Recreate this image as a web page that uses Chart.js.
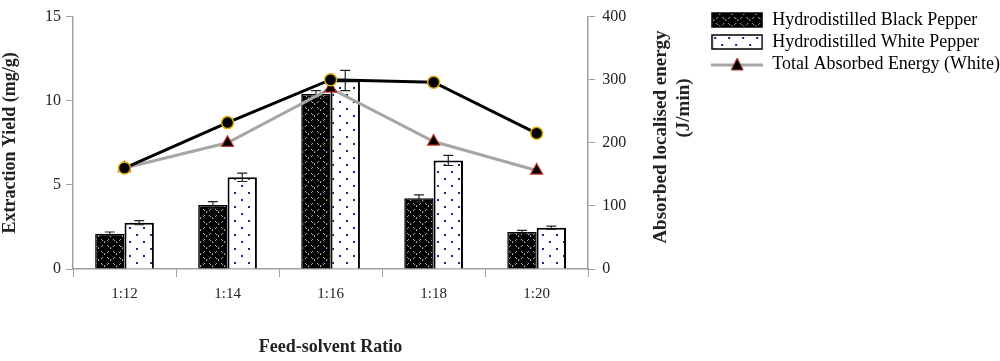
<!DOCTYPE html>
<html>
<head>
  <meta name="viewport" content="width=device-width, initial-scale=1.0">
  <title>Extraction Yield vs Feed-solvent Ratio</title>
  <script src="https://cdn.jsdelivr.net/npm/chart.js"></script>
  <style>
    body { margin: 0; padding: 0; background: #fff; }
    #wrap { width: 1000px; height: 361px; }
  </style>
</head>
<body>
  <div id="wrap"><canvas id="myChart"></canvas></div>

  <script>
    // data
    const categories = ['1:12', '1:14', '1:16', '1:18', '1:20'];
    const blackPepper = [2.1, 3.8, 10.4, 4.2, 2.2];
    const blackErr = [0.1, 0.2, 0.2, 0.2, 0.1];
    const whitePepper = [2.75, 5.45, 11.2, 6.45, 2.45];
    const whiteErr = [0.12, 0.25, 0.6, 0.3, 0.1];
    const energyBlack = [160, 232, 300, 296, 215];
    const energyWhite = [160, 200, 286, 202, 156];
    const yTicks = [0, 5, 10, 15];
    const y1Ticks = [0, 100, 200, 300, 400];

    const FONT = "'Liberation Serif', serif";
    const axisGray = '#a0a0a0';

    // patterns for the bars
    function blackTile() {
      const c = document.createElement('canvas');
      c.width = 12; c.height = 12;
      const g = c.getContext('2d');
      g.fillStyle = '#fff'; g.fillRect(0, 0, 12, 12);
      g.fillStyle = '#000';
      g.fillRect(0, 0, 6, 6);
      g.fillRect(6, 6, 6, 6);
      [[9, 3], [3, 9]].forEach(([x, y]) => {
        g.beginPath(); g.arc(x, y, 3.3, 0, Math.PI * 2); g.fill();
      });
      g.fillStyle = '#fff';
      g.fillRect(8, 1.5, 1.2, 1.2);
      g.fillRect(2, 7.5, 1.2, 1.2);
      return c;
    }
    function dotTile() {
      const c = document.createElement('canvas');
      c.width = 14; c.height = 14;
      const g = c.getContext('2d');
      g.fillStyle = '#fff'; g.fillRect(0, 0, 14, 14);
      g.fillStyle = '#1a2a80';
      g.fillRect(3, 3, 2, 2);
      g.fillRect(10, 10, 2, 2);
      return c;
    }
    const pctx = document.createElement('canvas').getContext('2d');
    const blackPattern = pctx.createPattern(blackTile(), 'repeat');
    const dotPattern = pctx.createPattern(dotTile(), 'repeat');

    // legend swatches
    function swatch(pattern) {
      const c = document.createElement('canvas');
      c.width = 52; c.height = 16;
      const g = c.getContext('2d');
      g.fillStyle = pattern; g.fillRect(1, 1, 50, 14);
      g.strokeStyle = '#000'; g.lineWidth = 1.5; g.strokeRect(1, 1, 50, 14);
      return c;
    }
    function lineSwatch() {
      const c = document.createElement('canvas');
      c.width = 52; c.height = 16;
      const g = c.getContext('2d');
      g.strokeStyle = '#a6a6a6'; g.lineWidth = 3;
      g.beginPath(); g.moveTo(0, 9); g.lineTo(52, 9); g.stroke();
      g.fillStyle = '#000'; g.strokeStyle = '#c0392b'; g.lineWidth = 1;
      g.beginPath(); g.moveTo(26, 2); g.lineTo(32, 14); g.lineTo(20, 14); g.closePath();
      g.fill(); g.stroke();
      return c;
    }
    const legendIcons = [swatch(blackPattern), swatch(dotPattern), lineSwatch()];

    // error bars on the two bar series
    const errorBars = {
      id: 'errorBars',
      afterDatasetDraw(chart, args) {
        const ds = chart.data.datasets[args.index];
        if (!ds.errors) return;
        const ctx = chart.ctx;
        const y = chart.scales.y;
        ctx.save();
        ctx.strokeStyle = '#222';
        ctx.lineWidth = 1.2;
        args.meta.data.forEach((bar, i) => {
          const v = ds.data[i], e = ds.errors[i];
          const top = y.getPixelForValue(v + e), bot = y.getPixelForValue(v - e);
          ctx.beginPath();
          ctx.moveTo(bar.x, top); ctx.lineTo(bar.x, bot);
          ctx.moveTo(bar.x - 5, top); ctx.lineTo(bar.x + 5, top);
          ctx.moveTo(bar.x - 5, bot); ctx.lineTo(bar.x + 5, bot);
          ctx.stroke();
        });
        ctx.restore();
      }
    };

    // right axis title reads bottom-to-top
    const rightTitle = {
      id: 'rightTitle',
      afterDraw(chart) {
        const ctx = chart.ctx;
        const a = chart.chartArea;
        ctx.save();
        ctx.fillStyle = '#222';
        ctx.font = 'bold 19px ' + FONT;
        ctx.textAlign = 'center';
        ctx.textBaseline = 'middle';
        [['Absorbed localised energy', a.right + 73, 137], ['(J/min)', a.right + 96, 108]].forEach(([t, x, yc]) => {
          ctx.save();
          ctx.translate(x, yc);
          ctx.rotate(-Math.PI / 2);
          ctx.fillText(t, 0, 0);
          ctx.restore();
        });
        ctx.restore();
      }
    };

    const ctx = document.getElementById('myChart').getContext('2d');
    const chart = new Chart(ctx, {
      data: {
        labels: categories,
        datasets: [
          {
            type: 'line',
            label: 'Total Absorbed Energy (Black)',
            data: energyBlack,
            yAxisID: 'y1',
            borderColor: '#000',
            borderWidth: 3,
            pointRadius: 6,
            pointBackgroundColor: '#000',
            pointBorderColor: '#e0b000',
            pointBorderWidth: 1.5,
            order: 0
          },
          {
            type: 'line',
            label: 'Total Absorbed Energy (White)',
            data: energyWhite,
            yAxisID: 'y1',
            borderColor: '#a6a6a6',
            borderWidth: 3,
            pointStyle: 'triangle',
            pointRadius: 7,
            pointBackgroundColor: '#000',
            pointBorderColor: '#c0392b',
            pointBorderWidth: 1.2,
            order: 1
          },
          {
            type: 'bar',
            label: 'Hydrodistilled Black Pepper',
            data: blackPepper,
            errors: blackErr,
            yAxisID: 'y',
            backgroundColor: blackPattern,
            borderColor: '#000',
            borderWidth: 1.5,
            order: 2
          },
          {
            type: 'bar',
            label: 'Hydrodistilled White Pepper',
            data: whitePepper,
            errors: whiteErr,
            yAxisID: 'y',
            backgroundColor: dotPattern,
            borderColor: '#000',
            borderWidth: 2,
            order: 3
          }
        ]
      },
      options: {
        responsive: true,
        maintainAspectRatio: false,
        animation: false,
        layout: { padding: { top: 7, right: -10, left: 0, bottom: 0 } },
        datasets: { bar: { categoryPercentage: 0.57, barPercentage: 1.0 } },
        plugins: {
          tooltip: { enabled: false },
          legend: {
            position: 'right',
            align: 'start',
            maxWidth: 320,
            labels: {
              usePointStyle: true,
              pointStyleWidth: 52,
              padding: 4,
              color: '#222',
              font: { family: FONT, size: 18 },
              generateLabels(chart) {
                const names = [chart.data.datasets[2].label, chart.data.datasets[3].label, chart.data.datasets[1].label];
                return names.map((t, i) => ({
                  text: t,
                  pointStyle: legendIcons[i],
                  fillStyle: '#000',
                  strokeStyle: '#000',
                  lineWidth: 0,
                  hidden: false,
                  datasetIndex: [2, 3, 1][i]
                }));
              }
            }
          }
        },
        scales: {
          x: {
            grid: { display: true, drawOnChartArea: false, offset: true, tickLength: 8, color: axisGray },
            border: { color: axisGray, width: 1.5 },
            ticks: { color: '#222', font: { family: FONT, size: 15 }, padding: 8 },
            title: { display: true, text: 'Feed-solvent Ratio', color: '#222', font: { family: FONT, size: 18, weight: 'bold' }, padding: { top: 0, bottom: 3 } },
            afterFit(s) { s.height = 92; }
          },
          y: {
            position: 'left',
            min: 0, max: 15,
            afterBuildTicks(s) { s.ticks = yTicks.map(v => ({ value: v })); },
            grid: { display: true, drawOnChartArea: false, tickLength: 7, color: axisGray },
            border: { color: axisGray, width: 1.5 },
            ticks: { color: '#222', font: { family: FONT, size: 16 }, padding: 5 },
            title: { display: true, text: 'Extraction Yield (mg/g)', color: '#222', font: { family: FONT, size: 18, weight: 'bold' }, padding: { top: 0, bottom: 0 } },
            afterFit(s) { s.width = 73; }
          },
          y1: {
            position: 'right',
            min: 0, max: 400,
            afterBuildTicks(s) { s.ticks = y1Ticks.map(v => ({ value: v })); },
            grid: { display: true, drawOnChartArea: false, tickLength: 7, color: axisGray },
            border: { color: axisGray, width: 1.5 },
            ticks: { color: '#222', font: { family: FONT, size: 16 }, padding: 7 },
            afterFit(s) { s.width = 119; }
          }
        }
      },
      plugins: [errorBars, rightTitle]
    });
  </script>
</body>
</html>
